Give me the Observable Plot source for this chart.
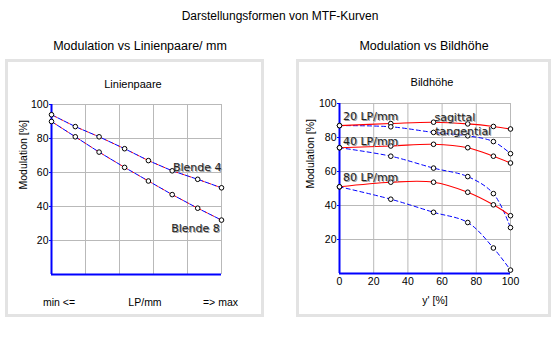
<!DOCTYPE html>
<html><head><meta charset="utf-8">
<script src="https://cdn.jsdelivr.net/npm/d3@7"></script>
<script src="https://cdn.jsdelivr.net/npm/@observablehq/plot@0.6"></script>
<style>
body{margin:0;background:#fff;}
#root{position:relative;width:560px;height:340px;overflow:hidden;font-family:"Liberation Sans",Arial,sans-serif;color:#000;}
.abs{position:absolute;white-space:nowrap;line-height:1;}
.box{position:absolute;border:3px solid #e3e3e3;box-sizing:border-box;background:#fff;}
svg{position:absolute;overflow:visible;}
</style></head><body><div id="root"></div>
<script>
// ---- data ----
const mainTitle = "Darstellungsformen von MTF-Kurven";
const panelTitles = ["Modulation vs Linienpaare/ mm", "Modulation vs Bildhöhe"];
const chartTitles = ["Linienpaare", "Bildhöhe"];
const leftAxisTexts = ["min <=", "LP/mm", "=> max"];
const yLabel = "Modulation [%]";
const xLabelRight = "y' [%]";

// left chart: modulation vs line pairs
const lpPos = [0, 14, 28, 43, 57, 71, 86, 100];
const blende4 = [94, 87, 81, 74, 67, 61, 56, 51];
const blende8 = [90, 81, 72, 63, 55, 47, 39, 32];
const leftSeriesNames = ["Blende 4", "Blende 8"];
const leftLabelX = [100, 99];
const leftLabelY = [63, 27];

// right chart: modulation vs image height
const imgHeight = [0, 30, 55, 75, 90, 100];
const sag20 = [87, 88.2, 89, 88, 86.5, 85];
const tan20 = [87, 86.3, 83, 81, 77.6, 70.5];
const sag40 = [74, 75, 76, 74, 69, 65];
const tan40 = [74, 69, 62, 57, 47, 27];
const sag80 = [51, 53.7, 53.7, 47.8, 40.4, 34];
const tan80 = [51, 43.7, 36, 30, 15, 2];
const rightLabels = ["20 LP/mm", "40 LP/mm", "80 LP/mm", "sagittal", "tangential"];
const rightLabelX = [2, 2, 2, 55.5, 56];
const rightLabelY = [92.5, 77.4, 56.5, 91.8, 83.3];

const yTicks = [20, 40, 60, 80, 100];
const xGrid = [0, 20, 40, 60, 80, 100];

// ---- helpers ----
const root = document.getElementById("root");
function htmlText(text, x, y, size, align, extra) {
  const d = document.createElement("div");
  d.className = "abs";
  d.textContent = text;
  d.style.fontSize = size + "px";
  d.style.top = y + "px";
  if (align === "center") { d.style.left = x + "px"; d.style.transform = "translate(-50%,-50%)"; }
  else if (align === "start") { d.style.left = x + "px"; d.style.transform = "translateY(-50%)"; }
  else { d.style.right = (560 - x) + "px"; d.style.transform = "translateY(-50%)"; }
  if (extra) Object.assign(d.style, extra);
  root.appendChild(d);
}
function box(x, y, w, h) {
  const b = document.createElement("div");
  b.className = "box";
  Object.assign(b.style, {left: x + "px", top: y + "px", width: w + "px", height: h + "px"});
  root.appendChild(b);
}
const rows = (xs, ys) => xs.map((x, i) => ({x, y: ys[i]}));
const gridColor = "#b9b9b9";
const axisBlue = "#0000ff";
const plotStyle = {fontFamily: "'Liberation Sans', Arial, sans-serif", fontSize: "10.5px", background: "transparent", color: "#000", overflow: "visible"};
const labelFont = "'DejaVu Sans', Verdana, sans-serif";
function shadowText(data, opts) {
  return [
    Plot.text(data, {...opts, dx: (opts.dx || 0) + 1, dy: 1, fill: "#9a9a9a"}),
    Plot.text(data, {...opts, fill: "#222"})
  ];
}
function yAxisLabel(dx) {
  return Plot.text([yLabel], {frameAnchor: "left", rotate: -90, dx, text: d => d, fontSize: 10.5, fill: "#000"});
}

// ---- frames and titles ----
box(5, 59, 259, 258);
box(296, 59, 255, 258);
htmlText(mainTitle, 280, 16, 12, "center");
htmlText(panelTitles[0], 140, 46, 12.5, "center");
htmlText(panelTitles[1], 424, 46, 12.5, "center");
htmlText(chartTitles[0], 133, 84, 11, "center");
htmlText(chartTitles[1], 432, 82, 11, "center");
htmlText(leftAxisTexts[0], 43, 302, 10.5, "start");
htmlText(leftAxisTexts[1], 145, 302, 10.5, "center");
htmlText(leftAxisTexts[2], 238, 302, 10.5, "end");
htmlText(xLabelRight, 435, 300, 10.5, "center");

// ---- left chart ----
const b4 = rows(lpPos, blende4);
const b8 = rows(lpPos, blende8);
const leftLab = leftSeriesNames.map((t, i) => ({t, x: leftLabelX[i], y: leftLabelY[i]}));
const left = Plot.plot({
  width: 253, height: 252,
  marginLeft: 43, marginRight: 40, marginTop: 42, marginBottom: 40,
  style: plotStyle,
  x: {domain: [0, 100], axis: null},
  y: {domain: [0, 100], axis: null},
  marks: [
    Plot.gridX(xGrid, {stroke: gridColor, strokeOpacity: 1}),
    Plot.gridY(yTicks, {stroke: gridColor, strokeOpacity: 1}),
    Plot.axisY(yTicks, {tickSize: 2, tickPadding: 1, stroke: axisBlue, label: null}),
    yAxisLabel(-28),
    Plot.ruleX([0], {stroke: axisBlue, strokeWidth: 2}),
    Plot.ruleY([0], {stroke: axisBlue, strokeWidth: 2}),
    ...[b4, b8].flatMap(d => [
      Plot.line(d, {x: "x", y: "y", stroke: "#ff0000", strokeWidth: 1, strokeDasharray: "2,5", strokeDashoffset: -4}),
      Plot.line(d, {x: "x", y: "y", stroke: "#0000ff", strokeWidth: 1, strokeDasharray: "4,3"})
    ]),
    Plot.dot([...b4, ...b8], {x: "x", y: "y", r: 2.3, stroke: "#000", fill: "#fff", strokeWidth: 1}),
    ...shadowText(leftLab, {x: "x", y: "y", text: "t", textAnchor: "end", fontSize: 11, fontFamily: labelFont})
  ]
});
Object.assign(left.style, {left: "8px", top: "62px"});
root.appendChild(left);

// ---- right chart ----
const sag = [sag20, sag40, sag80].map(s => rows(imgHeight, s));
const tan = [tan20, tan40, tan80].map(s => rows(imgHeight, s));
const rightLab = rightLabels.map((t, i) => ({t, x: rightLabelX[i], y: rightLabelY[i]}));
const right = Plot.plot({
  width: 249, height: 252,
  marginLeft: 40, marginRight: 38, marginTop: 41, marginBottom: 41,
  style: plotStyle,
  x: {domain: [0, 100], axis: null},
  y: {domain: [0, 100], axis: null},
  marks: [
    Plot.gridX(xGrid, {stroke: gridColor, strokeOpacity: 1}),
    Plot.gridY(yTicks, {stroke: gridColor, strokeOpacity: 1}),
    Plot.axisY(yTicks, {tickSize: 2, tickPadding: 1, stroke: axisBlue, label: null}),
    yAxisLabel(-29),
    Plot.axisX(xGrid, {tickSize: 0, tickPadding: 4, label: null}),
    Plot.ruleX([0], {stroke: axisBlue, strokeWidth: 2}),
    Plot.ruleY([0], {stroke: axisBlue, strokeWidth: 2}),
    ...tan.map(d => Plot.line(d, {x: "x", y: "y", stroke: "#0000ff", strokeWidth: 1, strokeDasharray: "4,3", curve: "catmull-rom"})),
    ...sag.map(d => Plot.line(d, {x: "x", y: "y", stroke: "#ff0000", strokeWidth: 1.1, curve: "catmull-rom"})),
    Plot.dot([...sag.flat(), ...tan.flat()], {x: "x", y: "y", r: 2.3, stroke: "#000", fill: "#fff", strokeWidth: 1}),
    ...shadowText(rightLab, {x: "x", y: "y", text: "t", textAnchor: "start", fontSize: 11, fontFamily: labelFont})
  ]
});
Object.assign(right.style, {left: "299px", top: "62px"});
root.appendChild(right);
</script>
</body></html>
